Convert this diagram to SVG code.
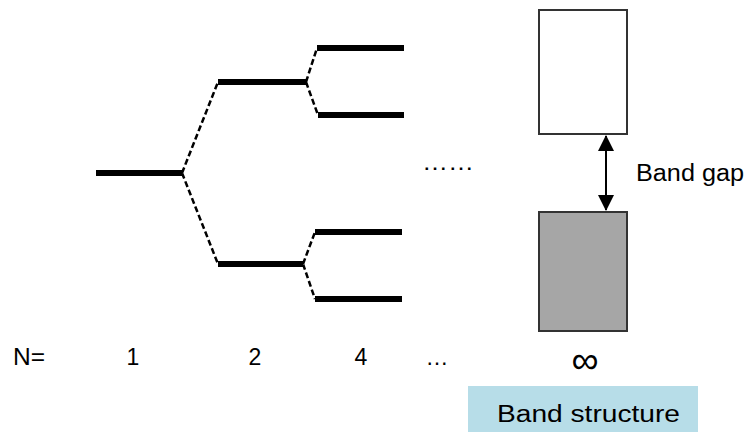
<svg xmlns="http://www.w3.org/2000/svg" width="747" height="432" viewBox="0 0 747 432">
<style>
.lvl{stroke:#000;stroke-width:6;fill:none}
.dash{stroke:#000;stroke-width:2.5;stroke-dasharray:6 3;fill:none}
.band{stroke:#333;stroke-width:2}
.t{font-family:"Liberation Sans",Arial,sans-serif;font-size:23px;fill:#000}
</style>
<defs>
<marker id="ah" viewBox="0 0 16 16" markerWidth="16" markerHeight="16" refX="15" refY="8" orient="auto-start-reverse" markerUnits="userSpaceOnUse">
<path d="M0,0 L16,8 L0,16 Z" fill="#000"/>
</marker>
</defs>
<rect width="747" height="432" fill="#fff"/>
<g id="connectors">
<path class="dash" d="M182,173 L218,82 M182,173 L218,264 M306,82 L317,48 M306,82 L318,115 M303,264 L315,232 M303,264 L315,299"/>
<line x1="606" y1="136" x2="606" y2="210" stroke="#000" stroke-width="2" marker-start="url(#ah)" marker-end="url(#ah)"/>
</g>
<g id="n1"><line class="lvl" x1="96" y1="173" x2="182" y2="173"/></g>
<g id="n2a"><line class="lvl" x1="218" y1="82" x2="306" y2="82"/></g>
<g id="n2b"><line class="lvl" x1="218" y1="264" x2="303" y2="264"/></g>
<g id="n4a"><line class="lvl" x1="317" y1="48" x2="404" y2="48"/></g>
<g id="n4b"><line class="lvl" x1="318" y1="115" x2="404" y2="115"/></g>
<g id="n4c"><line class="lvl" x1="315" y1="232" x2="402" y2="232"/></g>
<g id="n4d"><line class="lvl" x1="315" y1="299" x2="402" y2="299"/></g>
<g id="conduction"><rect class="band" x="539" y="10" width="88" height="124" fill="#fff"/></g>
<g id="valence"><rect class="band" x="539" y="212" width="88" height="119" fill="#a6a6a6"/></g>
<g id="dots"><text class="t" x="422" y="170" textLength="52" lengthAdjust="spacingAndGlyphs">……</text></g>
<g id="gaplabel"><text class="t" x="636" y="181" textLength="108" lengthAdjust="spacingAndGlyphs">Band gap</text></g>
<g id="axis">
<text class="t" x="13" y="365" textLength="32" lengthAdjust="spacingAndGlyphs">N=</text>
<text class="t" x="133" y="365" text-anchor="middle">1</text>
<text class="t" x="255" y="365" text-anchor="middle">2</text>
<text class="t" x="361" y="365" text-anchor="middle">4</text>
<text class="t" x="437" y="365" text-anchor="middle">…</text>
<text class="t" x="585" y="373" text-anchor="middle" style="font-size:38px">∞</text>
</g>
<g id="bandstructure">
<rect x="468" y="386" width="230" height="46" fill="#b7dde8"/>
<text class="t" x="497" y="422" textLength="183" lengthAdjust="spacingAndGlyphs">Band structure</text>
</g>
</svg>
